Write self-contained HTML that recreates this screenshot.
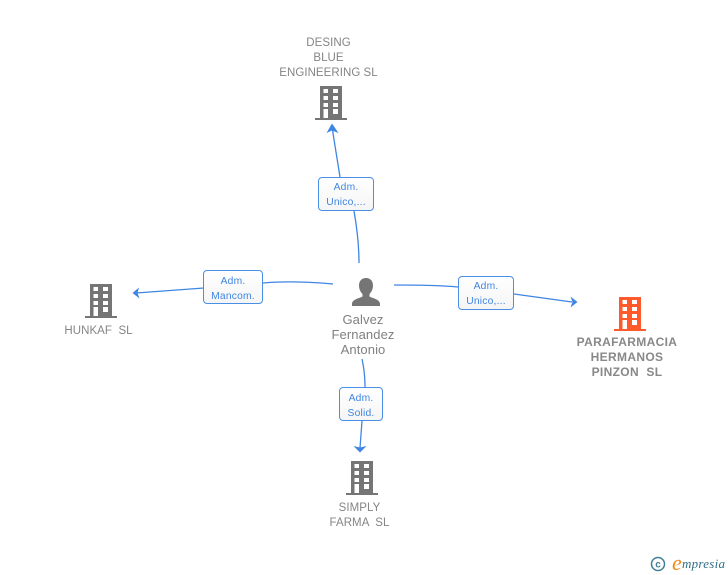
<!DOCTYPE html>
<html><head><meta charset="utf-8">
<style>
html,body{margin:0;padding:0;background:#fff}
#c{position:relative;width:728px;height:575px;overflow:hidden;background:#fff;font-family:"Liberation Sans",sans-serif}
svg{position:absolute;left:0;top:0}
.t{position:absolute;text-align:center;color:#858585;font-size:11.500px;line-height:15px;white-space:pre;letter-spacing:.05px}
.b{position:absolute;box-sizing:border-box;border:1.300px solid #4a8fe6;border-radius:4px;background:linear-gradient(#ffffff,#f5f5f5);color:#3f86e2;font-size:10.300px;line-height:15px;text-align:center;padding-top:2px;white-space:pre;letter-spacing:.2px}
</style></head><body>
<div id="c">
<svg width="728" height="575" viewBox="0 0 728 575">
<defs>
<symbol id="bd" width="32" height="34" viewBox="0 0 32 34" overflow="visible">
<path fill-rule="evenodd" d="M5 0H27V32H32V34H0V32H5ZM8.500 3V7H13V3ZM18 3V7H23V3ZM8.500 10V14H13V10ZM18 10V14H23V10ZM8.500 17V21H13V17ZM18 17V21H23V17ZM8.500 23V32H13V23ZM18 23V28H23V23Z"/>
</symbol>
</defs>
<g fill="#757575">
<use href="#bd" x="315" y="86"/>
<use href="#bd" x="85" y="284"/>
<use href="#bd" x="346" y="461"/>
</g>
<g fill="#ff5a2b"><use href="#bd" x="614" y="297"/></g>
<path fill="#757575" d="M366 278c4.500 0 7 3.300 7 7.500 0 3.500-1.500 6.500-3.500 8.500v2.500c2 1.500 10.500 2.500 10.500 7.500v2h-28v-2c0-5 8.500-6 10.500-7.500V294c-2-2-3.500-5-3.500-8.500 0-4.200 2.500-7.500 7-7.500z"/>
<g fill="none" stroke="#3f86e2" stroke-width="1.300">
<path d="M359 263C359 245 357 228 354 211"/>
<path d="M340 177L332 127"/>
<path d="M333 284C310 282 285 281 263 283"/>
<path d="M204 288L136 293"/>
<path d="M394 285C415 285 437 285 458 287"/>
<path d="M514 294L572 302"/>
<path d="M362 359C364 368 365 378 365 387"/>
<path d="M362 421L360 448"/>
</g>
<g fill="#3f86e2">
<path d="M332 123.500L338.500 133L332 130.500L326.500 133Z"/>
<path d="M132.500 293L139 287.500L137.500 293L139.500 298.500Z"/>
<path d="M577.500 302L570.500 296.500L572.500 302L570.500 307.500Z"/>
<path d="M360 452.500L353.500 446L360 447.500L366.500 446Z"/>
</g>
<circle cx="658" cy="564" r="6.500" fill="none" stroke="#3f7f96" stroke-width="1.500"/>
<text x="658" y="567.500" text-anchor="middle" font-family="Liberation Sans" font-size="10" font-weight="bold" fill="#3f7f96">c</text>
<text x="672" y="570" font-family="Liberation Serif" font-style="italic" font-size="22" fill="#f08a1d">e</text>
<text x="682" y="568" font-family="Liberation Serif" font-style="italic" font-size="13" fill="#2f6f86" textLength="43">mpresia</text>
</svg>
<div class="t" style="left:268.500px;top:36px;width:120px">DESING
BLUE
ENGINEERING SL</div>
<div class="t" style="left:38.500px;top:324px;width:120px">HUNKAF  SL</div>
<div class="t" style="left:565px;top:335px;width:124px;font-weight:bold;font-size:12px;letter-spacing:.35px;color:#888">PARAFARMACIA
HERMANOS
PINZON  SL</div>
<div class="t" style="left:299.500px;top:501px;width:120px">SIMPLY
FARMA  SL</div>
<div class="t" style="left:303px;top:312px;width:120px;font-size:13px;letter-spacing:.1px;color:#808080">Galvez
Fernandez
Antonio</div>
<div class="b" style="left:318px;top:177px;width:56px;height:34px">Adm.
Unico,...</div>
<div class="b" style="left:203px;top:270px;width:60px;height:34px;padding-top:3px">Adm.
Mancom.</div>
<div class="b" style="left:458px;top:276px;width:56px;height:34px">Adm.
Unico,...</div>
<div class="b" style="left:339px;top:387px;width:44px;height:34px;padding-top:3px">Adm.
Solid.</div>
</div>
</body></html>
